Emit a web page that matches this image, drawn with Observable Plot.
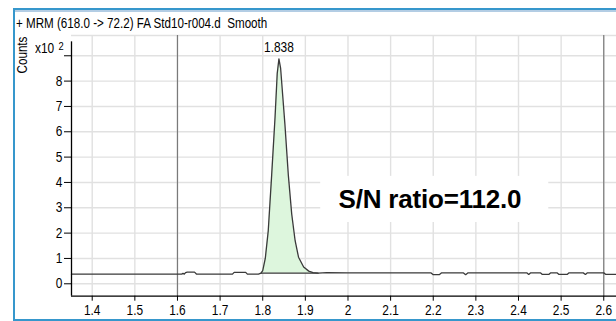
<!DOCTYPE html>
<html><head><meta charset="utf-8">
<script src="https://cdn.jsdelivr.net/npm/d3@7"></script>
<script src="https://cdn.jsdelivr.net/npm/@observablehq/plot@0.6"></script>
<style>
body{margin:0;background:#fff;width:616px;height:321px;overflow:hidden;position:relative;
 font-family:"Liberation Sans",Arial,sans-serif;}
#chart{position:absolute;left:0;top:0;}
.frame{position:absolute;left:13px;top:8px;width:800px;height:313px;border:2px solid #3697cc;border-right:none;box-sizing:border-box;z-index:3;pointer-events:none;}
.frame .inner{position:absolute;left:0;top:0;right:0;height:0;border-top:2px solid #b3cde4;}
.title{position:absolute;left:16px;top:16px;font-size:14px;line-height:14px;white-space:pre;color:#000;z-index:4;transform-origin:0 0;transform:scaleX(0.83);}
.ylab{position:absolute;left:22px;top:55px;font-size:14px;line-height:14px;transform:translate(-50%,-50%) rotate(-90deg) scaleX(0.83);white-space:nowrap;z-index:4;}
.mult{position:absolute;left:35px;top:41px;font-size:14px;line-height:14px;z-index:4;white-space:nowrap;transform-origin:0 0;transform:scaleX(0.85);}
.mult sup{font-size:11px;position:relative;top:-3px;vertical-align:baseline;margin-left:5px;}
</style></head>
<body>
<div id="chart"></div>
<div class="frame"><div class="inner"></div></div>
<div class="title" id="title"></div>
<div class="ylab" id="ylab"></div>
<div class="mult" id="mult"></div>
<script>
// ---- data ----
const titleText = "+ MRM (618.0 -> 72.2) FA Std10-r004.d  Smooth";
const yLabel = "Counts";
const multiplierBase = "x10";
const multiplierExp = "2";
const time = [1.3514,1.610,1.613,1.616,1.619,1.623,1.640,1.645,1.729,1.733,1.760,1.764,1.790,1.796,1.800,1.806,1.813,1.821,1.829,1.834,1.838,1.842,1.852,1.860,1.868,1.876,1.884,1.896,1.908,1.918,1.930,1.950,2.000,2.195,2.200,2.214,2.219,2.271,2.276,2.281,2.420,2.424,2.428,2.452,2.456,2.471,2.475,2.491,2.495,2.514,2.518,2.552,2.557,2.561,2.600,2.605,2.6299];
const counts = [0.38,0.38,0.41,0.38,0.44,0.46,0.46,0.38,0.38,0.45,0.45,0.38,0.38,0.42,0.52,1.0,2.1,4.3,6.6,8.3,8.88,8.5,6.3,4.3,2.75,1.7,1.05,0.66,0.5,0.44,0.42,0.44,0.43,0.43,0.36,0.36,0.43,0.43,0.36,0.43,0.43,0.37,0.43,0.43,0.37,0.37,0.43,0.43,0.37,0.37,0.43,0.43,0.37,0.43,0.43,0.37,0.37];
const peakRange = [1.796, 1.930];
const peakBaseline = 0.42;
const peakApexTime = [1.838];
const peakApexCounts = [8.88];
const peakLabels = ["1.838"];
const xTicks = [1.4,1.5,1.6,1.7,1.8,1.9,2.0,2.1,2.2,2.3,2.4,2.5,2.6];
const yTicks = [0,1,2,3,4,5,6,7,8,9];
const markerTimes = [1.6, 2.6];
const xDomain = [1.3514, 2.6299];
const yDomain = [-0.49, 9.8];
const yAxisTop = 9.55;
const noteText = ["S/N ratio=112.0"];
const noteX = [1.978];
const noteY = [3.0];
const noteBoxX = [1.936, 2.471];
const noteBoxY = [2.42, 4.24];

document.getElementById("title").textContent = titleText;
document.getElementById("ylab").textContent = yLabel;
document.getElementById("mult").innerHTML = multiplierBase + "<sup>" + multiplierExp + "</sup>";

const trace = time.map((t, i) => ({t, c: counts[i]}));
const peak = trace.filter(d => d.t >= peakRange[0] && d.t <= peakRange[1]);
const apex = peakApexTime.map((t, i) => ({t, c: peakApexCounts[i], label: peakLabels[i]}));
const note = noteText.map((s, i) => ({s, x: noteX[i], y: noteY[i]}));
const fmt = d => String(+d.toFixed(1));
const FONT = '"Liberation Sans",Arial,sans-serif';

const plot = Plot.plot({
  width: 616, height: 321,
  marginLeft: 71, marginRight: 0, marginTop: 35, marginBottom: 25.3,
  style: {fontFamily: FONT, fontSize: "14px", color: "#000", background: "transparent"},
  x: {domain: xDomain, label: null},
  y: {domain: yDomain, label: null},
  marks: [
    Plot.ruleY(yTicks, {stroke: "#e1e1e1", strokeWidth: 1.4}),
    Plot.ruleY([yDomain[1]], {stroke: "#e1e1e1", strokeWidth: 1.4}),
    Plot.ruleX(xTicks, {stroke: "#e1e1e1", strokeWidth: 1.4}),
    Plot.ruleX(markerTimes, {stroke: "#7a7a7a", strokeWidth: 1.2}),
    Plot.rect([0], {x1: noteBoxX[0], x2: noteBoxX[1], y1: noteBoxY[0], y2: noteBoxY[1], fill: "#fff"}),
    Plot.areaY(peak, {x: "t", y1: peakBaseline, y2: "c", fill: "#ddf6dd"}),
    Plot.line(peak, {x: "t", y: peakBaseline, stroke: "#3a3a3a", strokeWidth: 1.2}),
    Plot.line(trace, {x: "t", y: "c", stroke: "#3a3a3a", strokeWidth: 1.3}),
    Plot.text(apex, {x: "t", y: "c", text: "label", dy: -7, lineAnchor: "bottom", fontSize: 14, fill: "#000"}),
    Plot.text(note, {x: "x", y: "y", text: "s", textAnchor: "start", lineAnchor: "bottom", fontSize: 26, fontWeight: "bold", fill: "#000"}),
    Plot.ruleX([xDomain[0]], {y1: yDomain[0], y2: yAxisTop, stroke: "#000", strokeWidth: 1.3}),
    Plot.ruleY([yDomain[0]], {stroke: "#000", strokeWidth: 1.3}),
    Plot.axisX({ticks: xTicks, tickSize: 5, tickPadding: 4, fontSize: 14, tickFormat: fmt}),
    Plot.axisY({ticks: yTicks, tickSize: 7, tickPadding: 2, fontSize: 14, tickFormat: d => d === 9 ? "" : String(d)})
  ]
});
document.getElementById("chart").appendChild(plot);
// narrow glyphs: horizontally compress every text except the S/N annotation
plot.querySelectorAll("text").forEach(t => {
  if (t.textContent === noteText[0]) { t.setAttribute("letter-spacing", "-0.2"); return; }
  let tr = t.getAttribute("transform");
  if (!tr) {
    const x = t.getAttribute("x") || 0, y = t.getAttribute("y") || 0;
    t.removeAttribute("x"); t.removeAttribute("y");
    tr = `translate(${x},${y})`;
  }
  t.setAttribute("transform", tr + " scale(0.85,1)");
});
</script>
</body></html>
